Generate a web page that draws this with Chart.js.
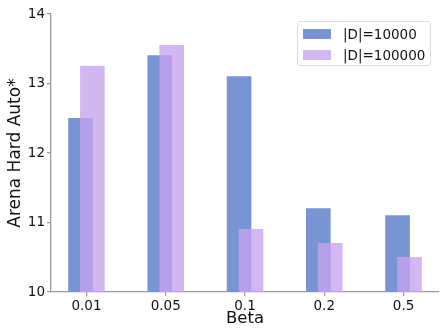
<!DOCTYPE html>
<html>
<head>
<meta charset="utf-8">
<script src="https://cdn.jsdelivr.net/npm/chart.js@4/dist/chart.umd.min.js"></script>
<style>
  body { margin: 0; background: #fff; }
  #wrap { position: relative; width: 448px; height: 336px; }
  #legend {
    position: absolute; left: 297px; top: 21px; width: 134px; height: 45px;
    border: 1px solid #dcdcdc; border-radius: 3px; background: rgba(255,255,255,0.8);
    font-family: 'DejaVu Sans', sans-serif; font-size: 13.5px; color: #111;
    box-sizing: border-box;
  }
  #legend .item { position: absolute; left: 5px; height: 16px; line-height: 16px; white-space: nowrap; }
  #legend .swatch { position: absolute; left: 0; top: 3px; width: 28px; height: 10px; }
  #legend .label { position: absolute; left: 40px; top: 0; }
</style>
</head>
<body>
<div id="wrap">
  <canvas id="betaChart" width="448" height="336"></canvas>
  <div id="legend"></div>
</div>
<script>
// Values
var betaLabels = ['0.01', '0.05', '0.1', '0.2', '0.5'];
var scores10k = [12.5, 13.4, 13.1, 11.2, 11.1];
var scores100k = [13.25, 13.55, 10.9, 10.7, 10.5];
var yTicks = [10, 11, 12, 13, 14];

var groupShift = 0.075;  // half of the overlap offset, in category units
var blueColor = 'rgb(120, 148, 210)';
var purpleColor = 'rgba(197, 164, 238, 0.78)';

function toPoints(values, shift) {
    return values.map(function(v, i) { return { x: i + shift, y: v }; });
}

var axisGrey = '#9a9a9a';
var tickFont = { family: 'DejaVu Sans', size: 13.5 };

var ctx = document.getElementById('betaChart').getContext('2d');
var betaChart = new Chart(ctx, {
    type: 'bar',
    data: {
        datasets: [{
            label: '|D|=10000',
            data: toPoints(scores10k, -groupShift),
            backgroundColor: blueColor,
            order: 1
        }, {
            label: '|D|=100000',
            data: toPoints(scores100k, groupShift),
            backgroundColor: purpleColor,
            order: 0
        }]
    },
    options: {
        responsive: false,
        animation: false,
        layout: { padding: { top: 14, right: 9, left: 0, bottom: 0 } },
        datasets: {
            bar: { grouped: false, barThickness: 24, borderWidth: 0 }
        },
        scales: {
            x: {
                type: 'linear',
                offset: false,
                min: -0.4475,
                max: betaLabels.length - 1 + 0.4475,
                afterBuildTicks: function(scale) {
                    scale.ticks = betaLabels.map(function(l, i) { return { value: i }; });
                },
                afterFit: function(scale) { scale.height = 44; },
                ticks: {
                    color: '#111',
                    font: tickFont,
                    padding: 2,
                    callback: function(value) { return betaLabels[value]; }
                },
                grid: { offset: false, drawOnChartArea: false, drawTicks: true, tickLength: 4, color: axisGrey, lineWidth: 1.25 },
                border: { display: true, color: axisGrey, width: 1.25 },
                title: {
                    display: true,
                    text: 'Beta',
                    color: '#111',
                    font: { family: 'DejaVu Sans', size: 16.5, lineHeight: 1.2 },
                    padding: { top: 0, bottom: 7 }
                }
            },
            y: {
                min: 10,
                max: 14,
                afterBuildTicks: function(scale) {
                    scale.ticks = yTicks.map(function(v) { return { value: v }; });
                },
                afterFit: function(scale) { scale.width = 51; },
                ticks: { color: '#111', font: tickFont, padding: 2 },
                grid: { drawOnChartArea: false, drawTicks: true, tickLength: 4, color: axisGrey, lineWidth: 1.25 },
                border: { display: true, color: axisGrey, width: 1.25 },
                title: {
                    display: true,
                    text: 'Arena Hard Auto*',
                    color: '#111',
                    font: { family: 'DejaVu Sans', size: 17, lineHeight: 1.2 },
                    padding: { top: 5, bottom: 0 }
                }
            }
        },
        plugins: {
            legend: { display: false },
            tooltip: { enabled: false }
        }
    }
});

// HTML legend built from the datasets, in dataset order
var legendEl = document.getElementById('legend');
betaChart.data.datasets.forEach(function(ds, i) {
    var item = document.createElement('div');
    item.className = 'item';
    item.style.top = (4 + i * 21) + 'px';
    var sw = document.createElement('span');
    sw.className = 'swatch';
    sw.style.background = ds.backgroundColor;
    var lb = document.createElement('span');
    lb.className = 'label';
    lb.textContent = ds.label;
    item.appendChild(sw);
    item.appendChild(lb);
    legendEl.appendChild(item);
});
</script>
</body>
</html>
